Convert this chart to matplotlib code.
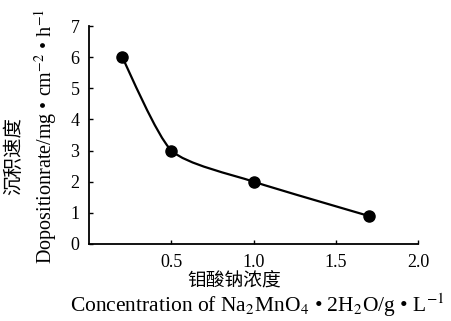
import numpy as np
import matplotlib
matplotlib.use('Agg')
import matplotlib.pyplot as plt
from matplotlib.path import Path
from matplotlib.patches import PathPatch

# data
conc = [0.2, 0.5, 1.0, 1.7]
rate = [6.0, 3.0, 2.0, 0.9]
xticks = [0.5, 1.0, 1.5, 2.0]
xtick_labels = ['0.5', '1.0', '1.5', '2.0']
yticks = [0, 1, 2, 3, 4, 5, 6, 7]

plt.rcParams['font.family'] = ['Liberation Serif', 'DejaVu Serif']
plt.rcParams['mathtext.fontset'] = 'stix'

fig = plt.figure(figsize=(4.51, 3.21), dpi=100)
ax = fig.add_axes([0.198, 0.240, 0.729, 0.679])

# smooth curve through the points (catmull-rom -> bezier, low tension)
pts = np.column_stack([conc, rate])
n = len(pts)
verts = [pts[0]]
codes = [Path.MOVETO]
for i in range(n - 1):
    p0 = pts[max(i - 1, 0)]
    p1 = pts[i]
    p2 = pts[i + 1]
    p3 = pts[min(i + 2, n - 1)]
    verts += [p1 + (p2 - p0) / 9, p2 - (p3 - p1) / 9, p2]
    codes += [Path.CURVE4] * 3
ax.add_patch(PathPatch(Path(verts, codes), fill=False, lw=1.6, ec='black'))
ax.plot(conc, rate, 'o', color='black', ms=8, zorder=3)

ax.set_xlim(0, 2.0)
ax.set_ylim(0, 7)
ax.spines['top'].set_visible(False)
ax.spines['right'].set_visible(False)
for s in ['left', 'bottom']:
    ax.spines[s].set_linewidth(1.3)
ax.set_xticks(xticks)
ax.set_xticklabels(xtick_labels)
ax.set_yticks(yticks)
ax.tick_params(direction='in', length=3, width=1, labelsize=13, pad=7)

fig.text(0.519, 0.126, '钼酸钠浓度', ha='center', va='center', fontsize=13.5,
         family=['Noto Sans CJK SC', 'DejaVu Sans'])
fig.text(0.57, 0.028, 'Concentration of Na$_2$MnO$_4$ • 2H$_2$O/g • L$^{-1}$',
         ha='center', va='baseline', fontsize=15.5)
fig.text(0.031, 0.514, '沉积速度', ha='center', va='center', rotation=90,
         fontsize=14, family=['Noto Sans CJK SC', 'DejaVu Sans'])
fig.text(0.102, 0.574, 'Dopositionrate/mg • cm$^{-2}$ • h$^{-1}$', ha='center',
         va='center', rotation=90, fontsize=14.5)

fig.savefig('out.png', dpi=100)
